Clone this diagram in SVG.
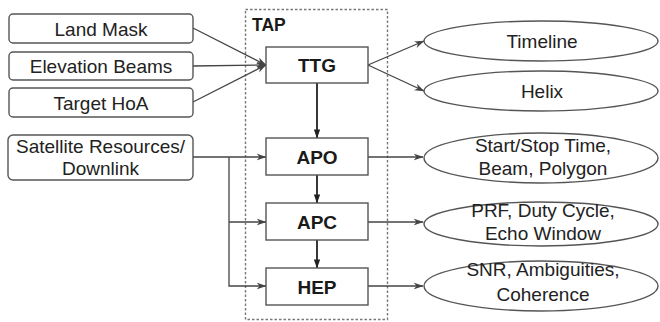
<svg xmlns="http://www.w3.org/2000/svg" width="660" height="322" viewBox="0 0 660 322">
<defs>
<style>
.box{fill:#fff;stroke:#555;stroke-width:1.4}
.ell{fill:#fff;stroke:#555;stroke-width:1.4}
.t{font-family:"Liberation Sans",Arial,sans-serif;font-size:19px;fill:#222;text-anchor:middle}
.b{font-family:"Liberation Sans",Arial,sans-serif;font-size:19px;font-weight:bold;fill:#1a1a1a;text-anchor:middle}
.c{fill:none;stroke:#444;stroke-width:1.3}
.cb{fill:none;stroke:#222;stroke-width:1.8}
</style>
<marker id="ah" viewBox="0 0 10 8" refX="9.5" refY="4" markerWidth="10" markerHeight="8" markerUnits="userSpaceOnUse" orient="auto">
<path d="M0,0.5 L10,4 L0,7.5 L3,4 Z" fill="#444"/>
</marker>
<marker id="ahb" viewBox="0 0 10 8" refX="9.5" refY="4" markerWidth="9" markerHeight="8" markerUnits="userSpaceOnUse" orient="auto">
<path d="M0,0.5 L10,4 L0,7.5 Z" fill="#222"/>
</marker>
</defs>
<rect width="660" height="322" fill="#fff"/>

<g id="tap">
<rect x="245.5" y="9.5" width="142" height="310" fill="none" stroke="#777" stroke-width="1.4" stroke-dasharray="2.5,2"/>
<text x="252" y="30.5" font-family="Liberation Sans,Arial,sans-serif" font-size="17.5" font-weight="bold" fill="#1a1a1a">TAP</text>
</g>

<g id="connectors">
<path class="c" d="M193,28 L266,65" marker-end="url(#ah)"/>
<path class="c" d="M193,66 L266,65" marker-end="url(#ah)"/>
<path class="c" d="M193,102 L266,65" marker-end="url(#ah)"/>
<path class="c" d="M368,65 L424,41" marker-end="url(#ah)"/>
<path class="c" d="M368,65 L424,91" marker-end="url(#ah)"/>
<path class="c" d="M193,157 L266,157" marker-end="url(#ah)"/>
<path class="c" d="M229,157 L229,286 L266,286" marker-end="url(#ah)"/>
<path class="c" d="M229,222 L266,222" marker-end="url(#ah)"/>
<path class="cb" d="M317,83 L317,138" marker-end="url(#ahb)"/>
<path class="cb" d="M317,175 L317,203" marker-end="url(#ahb)"/>
<path class="cb" d="M317,240 L317,268" marker-end="url(#ahb)"/>
<path class="c" d="M368,157 L423,157" marker-end="url(#ah)"/>
<path class="c" d="M368,222 L423,222" marker-end="url(#ah)"/>
<path class="c" d="M368,286 L423,286" marker-end="url(#ah)"/>
</g>

<g id="land-mask">
<rect class="box" x="9" y="14" width="184" height="29" rx="4"/>
<text class="t" x="101" y="35.5">Land Mask</text>
</g>
<g id="elevation-beams">
<rect class="box" x="9" y="52" width="184" height="28" rx="4"/>
<text class="t" x="101" y="72.5">Elevation Beams</text>
</g>
<g id="target-hoa">
<rect class="box" x="9" y="88" width="184" height="29" rx="4"/>
<text class="t" x="101" y="109.5">Target HoA</text>
</g>
<g id="satellite">
<rect class="box" x="8" y="135" width="185" height="45" rx="5"/>
<text class="t" x="100.5" y="153">Satellite Resources/</text>
<text class="t" x="100.5" y="175">Downlink</text>
</g>

<g id="ttg">
<rect class="box" x="266" y="47" width="102" height="36"/>
<text class="b" x="317" y="72">TTG</text>
</g>
<g id="apo">
<rect class="box" x="266" y="138" width="102" height="37"/>
<text class="b" x="317" y="164">APO</text>
</g>
<g id="apc">
<rect class="box" x="266" y="203" width="102" height="37"/>
<text class="b" x="317" y="229">APC</text>
</g>
<g id="hep">
<rect class="box" x="266" y="268" width="102" height="37"/>
<text class="b" x="317" y="294">HEP</text>
</g>

<g id="timeline">
<ellipse class="ell" cx="541" cy="41" rx="117" ry="20"/>
<text class="t" x="542" y="48">Timeline</text>
</g>
<g id="helix">
<ellipse class="ell" cx="541" cy="91" rx="117" ry="20"/>
<text class="t" x="542" y="98">Helix</text>
</g>
<g id="start-stop">
<ellipse class="ell" cx="541" cy="158" rx="117" ry="25"/>
<text class="t" x="543" y="152">Start/Stop Time,</text>
<text class="t" x="543" y="175">Beam, Polygon</text>
</g>
<g id="prf">
<ellipse class="ell" cx="541" cy="224" rx="117" ry="22"/>
<text class="t" x="543" y="217">PRF, Duty Cycle,</text>
<text class="t" x="543" y="240">Echo Window</text>
</g>
<g id="snr">
<ellipse class="ell" cx="541" cy="286" rx="117" ry="25"/>
<text class="t" x="543" y="276">SNR, Ambiguities,</text>
<text class="t" x="543" y="301">Coherence</text>
</g>
</svg>
